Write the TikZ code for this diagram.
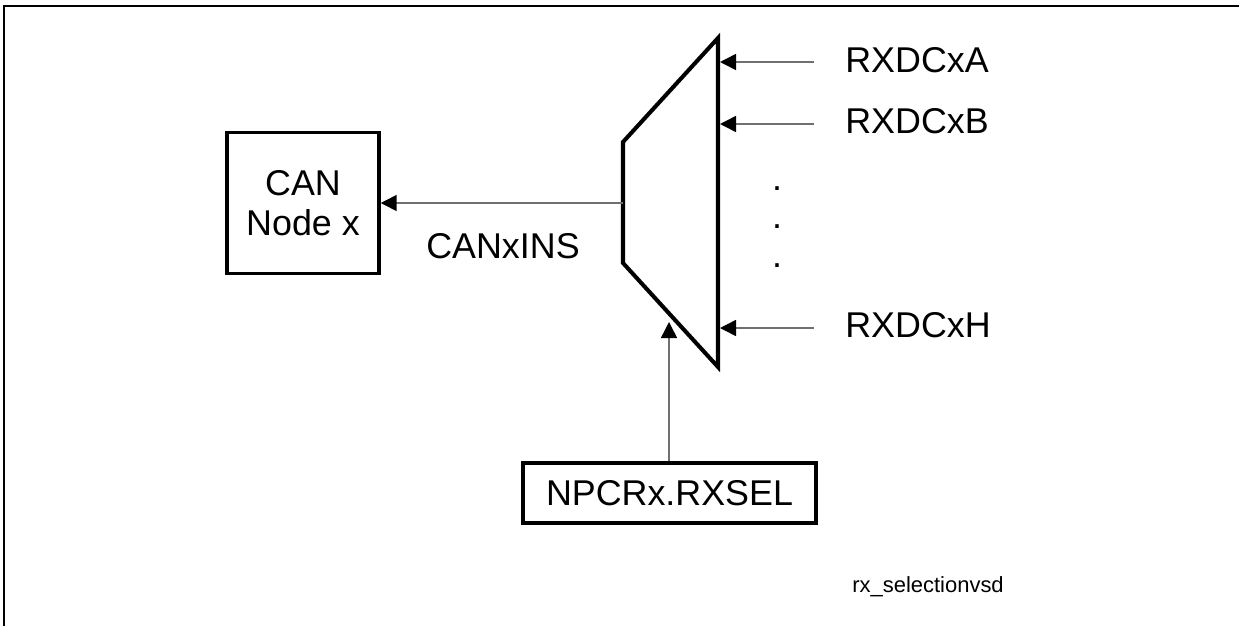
\documentclass[tikz,border=0pt]{standalone}
\usepackage{fontspec}
\setmainfont{Liberation Sans}
\usepackage{tikz}
\usetikzlibrary{arrows.meta,positioning}
\definecolor{Ink}{HTML}{000000}
\definecolor{Wire}{HTML}{707070}
\tikzset{
  blk/.style={draw=Ink,line width=2pt,align=center,inner sep=0pt,font=\fontsize{20.4}{22.4}\selectfont},
  mux/.style={draw=Ink,line width=2.3pt,line join=miter},
  sig/.style={draw=Wire,line width=.9pt,-{Triangle[length=.32cm,width=.32cm,color=Ink]}},
  lbl/.style={inner sep=0pt,font=\fontsize{20.4}{22}\selectfont},
  note/.style={inner sep=0pt,font=\fontsize{12.5}{14}\selectfont},
  frame/.style={draw=Ink,line width=.8pt}
}
\begin{document}
\begin{tikzpicture}[x=.02cm,y=-.02cm]
  \useasboundingbox (0,0) rectangle (1239,626);
  \draw[frame] (4,626) -- (4,6) -- (1239,6);
  % multiplexer
  \coordinate (mtr) at (718,38);
  \coordinate (mbr) at (718,367);
  \coordinate (mbl) at (623,263);
  \coordinate (mtl) at (623,142);
  \draw[mux] (mtr) -- (mbr) -- (mbl) -- (mtl) -- cycle;
  \coordinate (mout) at (623,203);
  \coordinate (ina) at (720,62);
  \coordinate (inb) at (720,124);
  \coordinate (inh) at (720,328);
  \coordinate (msel) at (669,322);
  % blocks
  \node[blk,minimum width=3.04cm,minimum height=2.82cm] (can) at (303,203) {CAN\\Node x};
  \node[blk,minimum width=5.86cm,minimum height=1.2cm] (npcr) at (669.5,493) {NPCRx.RXSEL};
  % inputs
  \node[lbl,anchor=west] (rxa) at (845,60) {RXDCxA};
  \node[lbl,anchor=west] (rxb) at (845,121) {RXDCxB};
  \node[lbl,anchor=west] (rxh) at (845,325) {RXDCxH};
  \coordinate (sa) at (814,62);
  \coordinate (sb) at (814,124);
  \coordinate (sh) at (814,328);
  \node[lbl] (d1) at (777,189) {.};
  \node[lbl] (d2) at (777,227) {.};
  \node[lbl] (d3) at (777,266) {.};
  \node[lbl] (ins) at (503,246) {CANxINS};
  \draw[sig] (sa) -- (ina);
  \draw[sig] (sb) -- (inb);
  \draw[sig] (sh) -- (inh);
  \draw[sig] (mout) -- (can.east |- mout);
  \draw[sig] (npcr.north -| msel) -- (msel);
  \node[note,anchor=base west] (tag) at (852,592) {rx\_selectionvsd};
\end{tikzpicture}
\end{document}
